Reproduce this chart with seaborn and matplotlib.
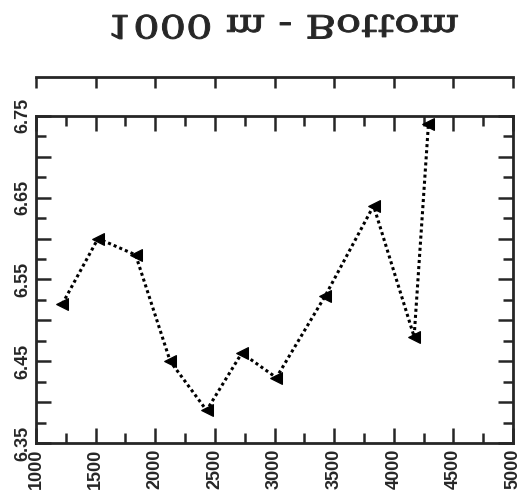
import numpy as np
import pandas as pd
import matplotlib
matplotlib.use("Agg")
import matplotlib.pyplot as plt
import matplotlib.patheffects as pe
from matplotlib.ticker import MultipleLocator, FuncFormatter
from matplotlib.transforms import Affine2D
import seaborn as sns

# values
depth = [1220, 1520, 1835, 2125, 2430, 2725, 3015, 3425, 3830, 4170, 4290]
value = [6.52, 6.60, 6.58, 6.45, 6.39, 6.46, 6.43, 6.53, 6.64, 6.48, 6.74]
title = "1000 m - Bottom"
ytick_labels = [6.35, 6.45, 6.55, 6.65, 6.75]

df = pd.DataFrame({"depth": depth, "value": value})


# the title in the scan is mirrored top-to-bottom (and set in a wide face);
# flip the glyph path about its centre and widen it a little
class FlipVertical(pe.AbstractPathEffect):
    def __init__(self, stretch=1.0, stroke=0.0):
        super().__init__()
        self.stretch = stretch
        self.stroke = stroke

    def draw_path(self, renderer, gc, tpath, affine, rgbFace=None):
        ext = tpath.get_extents(affine)
        cx = (ext.x0 + ext.x1) / 2
        cy = (ext.y0 + ext.y1) / 2
        flip = affine + Affine2D().translate(-cx, -cy).scale(self.stretch, -1).translate(cx, cy)
        gc0 = renderer.new_gc()
        gc0.copy_properties(gc)
        gc0.set_linewidth(self.stroke)
        renderer.draw_path(gc0, tpath, flip, rgbFace)
        gc0.restore()


sns.set_style("ticks")
plt.rcParams["font.family"] = ["Liberation Sans", "DejaVu Sans"]

fig = plt.figure(figsize=(5.22, 4.99), dpi=100)
ax = fig.add_axes([0.069, 0.112, 0.914, 0.656])

sns.lineplot(data=df, x="depth", y="value", ax=ax, color="black",
             linestyle=(0, (1, 1)), linewidth=2.2, marker="<", markersize=9,
             markeredgecolor="black", markerfacecolor="black", sort=False)

ax.set_xlim(1000, 5000)
ax.set_ylim(6.35, 6.75)
ax.set_xlabel("")
ax.set_ylabel("")
ax.xaxis.set_major_locator(MultipleLocator(500))
ax.xaxis.set_minor_locator(MultipleLocator(250))
ax.yaxis.set_major_locator(MultipleLocator(0.05))
ax.yaxis.set_minor_locator(MultipleLocator(0.025))


def ylab(v, pos):
    for t in ytick_labels:
        if abs(v - t) < 1e-6:
            return f"{t:.2f}"
    return ""


ax.yaxis.set_major_formatter(FuncFormatter(ylab))

for s in ax.spines.values():
    s.set_visible(True)
    s.set_linewidth(2)

# extra scale line above the frame
ax2 = ax.twiny()
ax2.set_xlim(1000, 5000)
ax2.xaxis.set_major_locator(MultipleLocator(500))
for k in ["left", "right", "bottom"]:
    ax2.spines[k].set_visible(False)
ax2.spines["top"].set_position(("outward", 28))
ax2.spines["top"].set_linewidth(2)
ax2.tick_params(axis="x", direction="in", length=8, width=1.8, labeltop=False)

ax.tick_params(axis="both", which="both", direction="in", top=True, right=True,
               width=1.8, labelsize=13)
ax.tick_params(axis="both", which="major", length=11)
ax.tick_params(axis="both", which="minor", length=7)
ax.tick_params(axis="x", labelrotation=90, pad=4)
ax.tick_params(axis="y", labelrotation=90, pad=3)
for lab in ax.get_xticklabels() + ax.get_yticklabels():
    lab.set_fontweight("bold")
for lab in ax.get_yticklabels():
    lab.set_verticalalignment("center")

fig.text(0.543, 0.94, title, ha="center", va="center", fontsize=23,
         family="DejaVu Serif", path_effects=[FlipVertical(stretch=1.3, stroke=0.7)])

fig.savefig("out.png", dpi=100)
